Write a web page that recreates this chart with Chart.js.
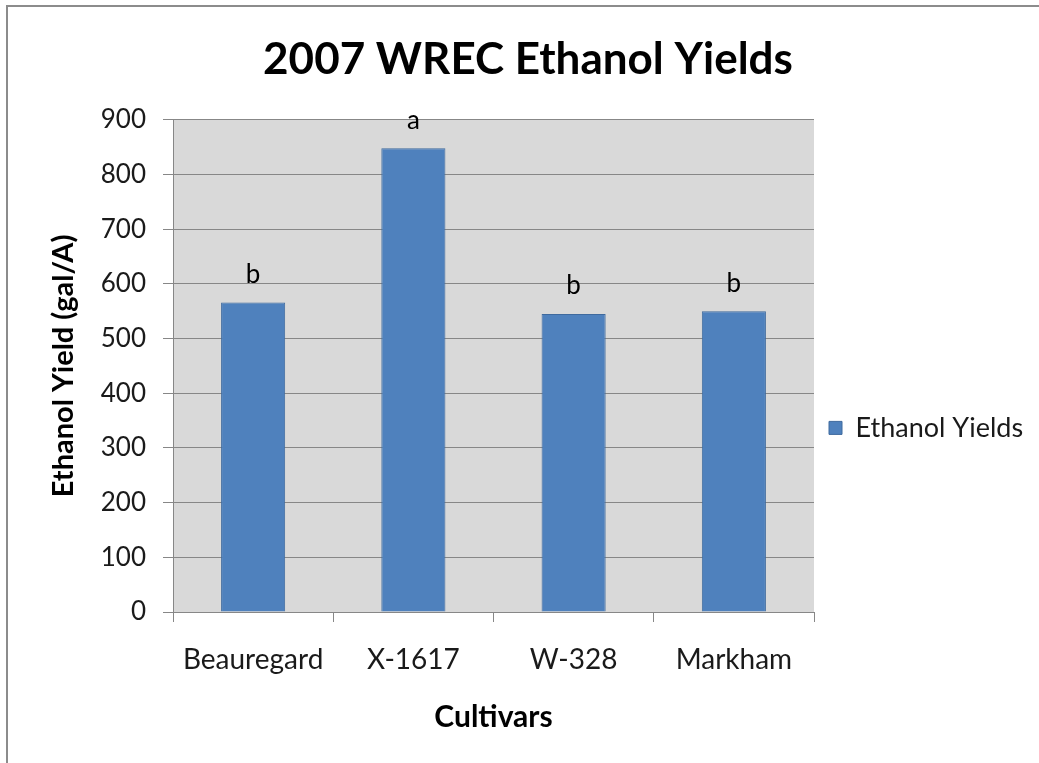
<!DOCTYPE html>
<html>
<head>
<meta charset="utf-8">
<script src="https://cdn.jsdelivr.net/npm/chart.js@4"></script>
<style>
    body { margin: 0; background: #fff; }
    #wrap { position: relative; width: 1039px; height: 763px; }
    #frame { position: absolute; left: 6px; top: 5px; right: 0; bottom: 0;
             border-left: 2px solid #8c8c8c; border-top: 2px solid #8c8c8c; pointer-events: none; }
</style>
</head>
<body>
<div id="wrap">
    <canvas id="chart" width="1039" height="763"></canvas>
    <div id="frame"></div>
</div>
<script>
const cultivars = ['Beauregard', 'X-1617', 'W-328', 'Markham'];
const yields = [566, 848, 545, 550];
const letters = ['b', 'a', 'b', 'b'];
const yTicks = [0, 100, 200, 300, 400, 500, 600, 700, 800, 900];

const FONT = 'Lato, "Open Sans", sans-serif';
const gridGray = '#878787';

// grey plot background
const plotBg = {
    id: 'plotBg',
    beforeDraw(chart) {
        const a = chart.chartArea;
        const ctx = chart.ctx;
        ctx.save();
        ctx.fillStyle = '#d9d9d9';
        ctx.fillRect(a.left, a.top, a.right - a.left, a.bottom - a.top);
        ctx.restore();
    }
};

// significance letters above the bars
const letterLabels = {
    id: 'letterLabels',
    afterDatasetsDraw(chart) {
        const ctx = chart.ctx;
        const meta = chart.getDatasetMeta(0);
        ctx.save();
        ctx.font = '26px ' + FONT;
        ctx.fillStyle = '#000';
        ctx.textAlign = 'center';
        ctx.textBaseline = 'middle';
        meta.data.forEach((bar, i) => {
            ctx.fillText(letters[i], bar.x, bar.y - 28);
        });
        ctx.restore();
    }
};

// legend sits right of the plot, a bit below the middle
const legendPlace = {
    id: 'legendPlace',
    afterInit(chart) {
        const fit = chart.legend.fit;
        chart.legend.fit = function () {
            fit.call(this);
            this.width = 225;
        };
    },
    afterLayout(chart) {
        chart.legend.top += 62;
        chart.legend.bottom += 62;
        chart.legend.adjustHitBoxes();
    }
};

new Chart(document.getElementById('chart'), {
    type: 'bar',
    data: {
        labels: cultivars,
        datasets: [{
            label: 'Ethanol Yields',
            data: yields,
            backgroundColor: '#4f81bd',
            borderColor: '#3f6a9e',
            borderWidth: 1,
            barPercentage: 0.4,
            categoryPercentage: 1.0
        }]
    },
    options: {
        responsive: false,
        animation: false,
        layout: { padding: { left: 17, right: 0, top: 0, bottom: 0 } },
        scales: {
            x: {
                afterFit: (s) => { s.height = 151; },
                grid: { display: true, drawOnChartArea: false, drawTicks: true, tickLength: 10, color: gridGray, offset: true },
                border: { color: gridGray },
                ticks: { color: '#1a1a1a', font: { family: FONT, size: 28 }, padding: 21, maxRotation: 0 },
                title: { display: true, text: 'Cultivars', color: '#000', font: { family: FONT, size: 30, weight: 'bold' }, padding: { top: 0, bottom: 28 } }
            },
            y: {
                min: 0,
                max: 900,
                afterFit: (s) => { s.width = 156; },
                afterBuildTicks: (s) => { s.ticks = yTicks.map(v => ({ value: v })); },
                grid: { color: gridGray, tickLength: 10 },
                border: { color: gridGray },
                ticks: { color: '#1a1a1a', font: { family: FONT, size: 26 }, padding: 17 },
                title: { display: true, text: 'Ethanol Yield (gal/A)', color: '#000', font: { family: FONT, size: 29, weight: 'bold' }, padding: { top: 29, bottom: 0 } }
            }
        },
        plugins: {
            title: {
                display: true,
                text: '2007 WREC Ethanol Yields',
                color: '#000',
                font: { family: FONT, size: 44, weight: 'bold' },
                padding: { top: 33, bottom: 34 }
            },
            legend: {
                display: true,
                position: 'right',
                fullSize: false,
                labels: {
                    color: '#1a1a1a',
                    font: { family: FONT, size: 27 },
                    boxWidth: 13,
                    boxHeight: 13,
                    padding: 15
                }
            },
            tooltip: { enabled: false }
        }
    },
    plugins: [plotBg, letterLabels, legendPlace]
});
</script>
</body>
</html>
